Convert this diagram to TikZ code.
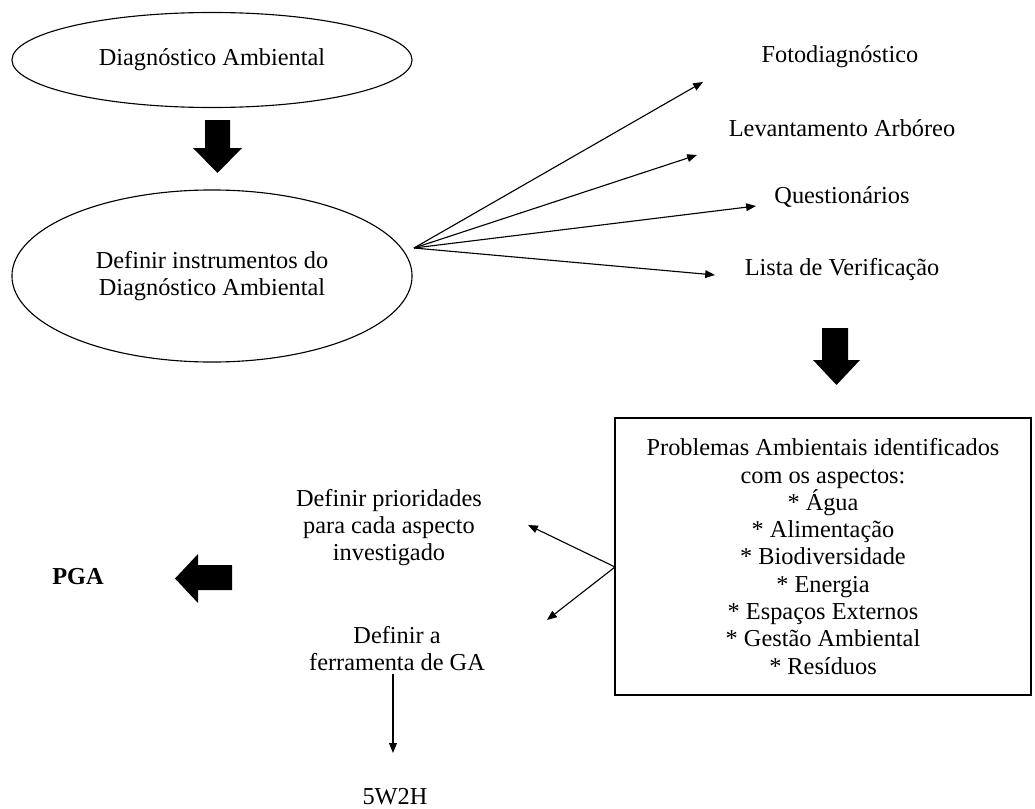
\documentclass[tikz,border=0pt]{standalone}
\usepackage{fontspec}
\setmainfont{Liberation Serif}
\usetikzlibrary{arrows.meta,shapes.geometric}

\begin{document}
\begin{tikzpicture}[
    x=0.025cm,y=-0.025cm,
    every node/.style={font=\fontsize{17.3}{19.4}\selectfont,align=center,inner sep=2pt},
    bolha/.style={draw,ellipse,line width=0.8pt,minimum width=10cm},
    fino/.style={line width=0.8pt,-{Triangle[length=7pt,width=5.5pt]}},
    bloco/.style={fill=black}
  ]
  \useasboundingbox (0,0) rectangle (1035,809);
  % etapas principais
  \node [bolha,minimum height=2.375cm] (diag) at (212,60) {Diagnóstico Ambiental};
  \node [bolha,minimum height=4.3cm] (inst) at (212,276) {Definir instrumentos do\\Diagnóstico Ambiental};
  \node (foto)  at (840,57)  {Fotodiagnóstico};
  \node (lev)   at (842,128) {Levantamento Arbóreo};
  \node (quest) at (842,197) {Questionários};
  \node (lista) at (842,270) {Lista de Verificação};
  \node [draw,line width=0.9pt,minimum width=10.4cm,minimum height=6.925cm] (prob) at (823,556.5)
    {Problemas Ambientais identificados\\com os aspectos:\\* Água\\* Alimentação\\* Biodiversidade\\* Energia\\* Espaços Externos\\* Gestão Ambiental\\* Resíduos};
  \node (prior) at (389,527.5) {Definir prioridades\\para cada aspecto\\investigado};
  \node (ga)    at (397,648.5) {Definir a\\ferramenta de GA};
  \node (w2h)   at (395,797)   {5W2H};
  \node [font=\fontsize{17.3}{19.4}\selectfont\bfseries] (pga) at (78,577) {PGA};
  % pontas livres das setas finas
  \coordinate (fan) at (414,248);
  \coordinate (tfoto) at (703,82);
  \coordinate (tlev) at (697,155);
  \coordinate (tquest) at (756,206);
  \coordinate (tlista) at (715,275);
  \coordinate (bfan) at (615,567);
  \coordinate (tprior) at (528,525);
  \coordinate (tga) at (547,620);
  \coordinate (tw2h) at (393,753);
  \foreach \t in {tfoto,tlev,tquest,tlista}
    \draw [fino] (fan) -- (\t);
  \foreach \t in {tprior,tga}
    \draw [fino] (bfan) -- (\t);
  \draw [fino] (ga.south -| tw2h) -- (tw2h);
  % setas cheias
  \fill [bloco] (205,120) -- (230,120) -- (230,148) -- (242,148) -- (217.5,173) -- (193,148) -- (205,148) -- cycle;
  \fill [bloco] (822,328) -- (848,328) -- (848,360) -- (860,360) -- (836.5,385) -- (813,360) -- (822,360) -- cycle;
  \fill [bloco] (232,565) -- (232,590) -- (198,590) -- (198,603) -- (175,578.5) -- (198,554) -- (198,565) -- cycle;
\end{tikzpicture}
\end{document}
